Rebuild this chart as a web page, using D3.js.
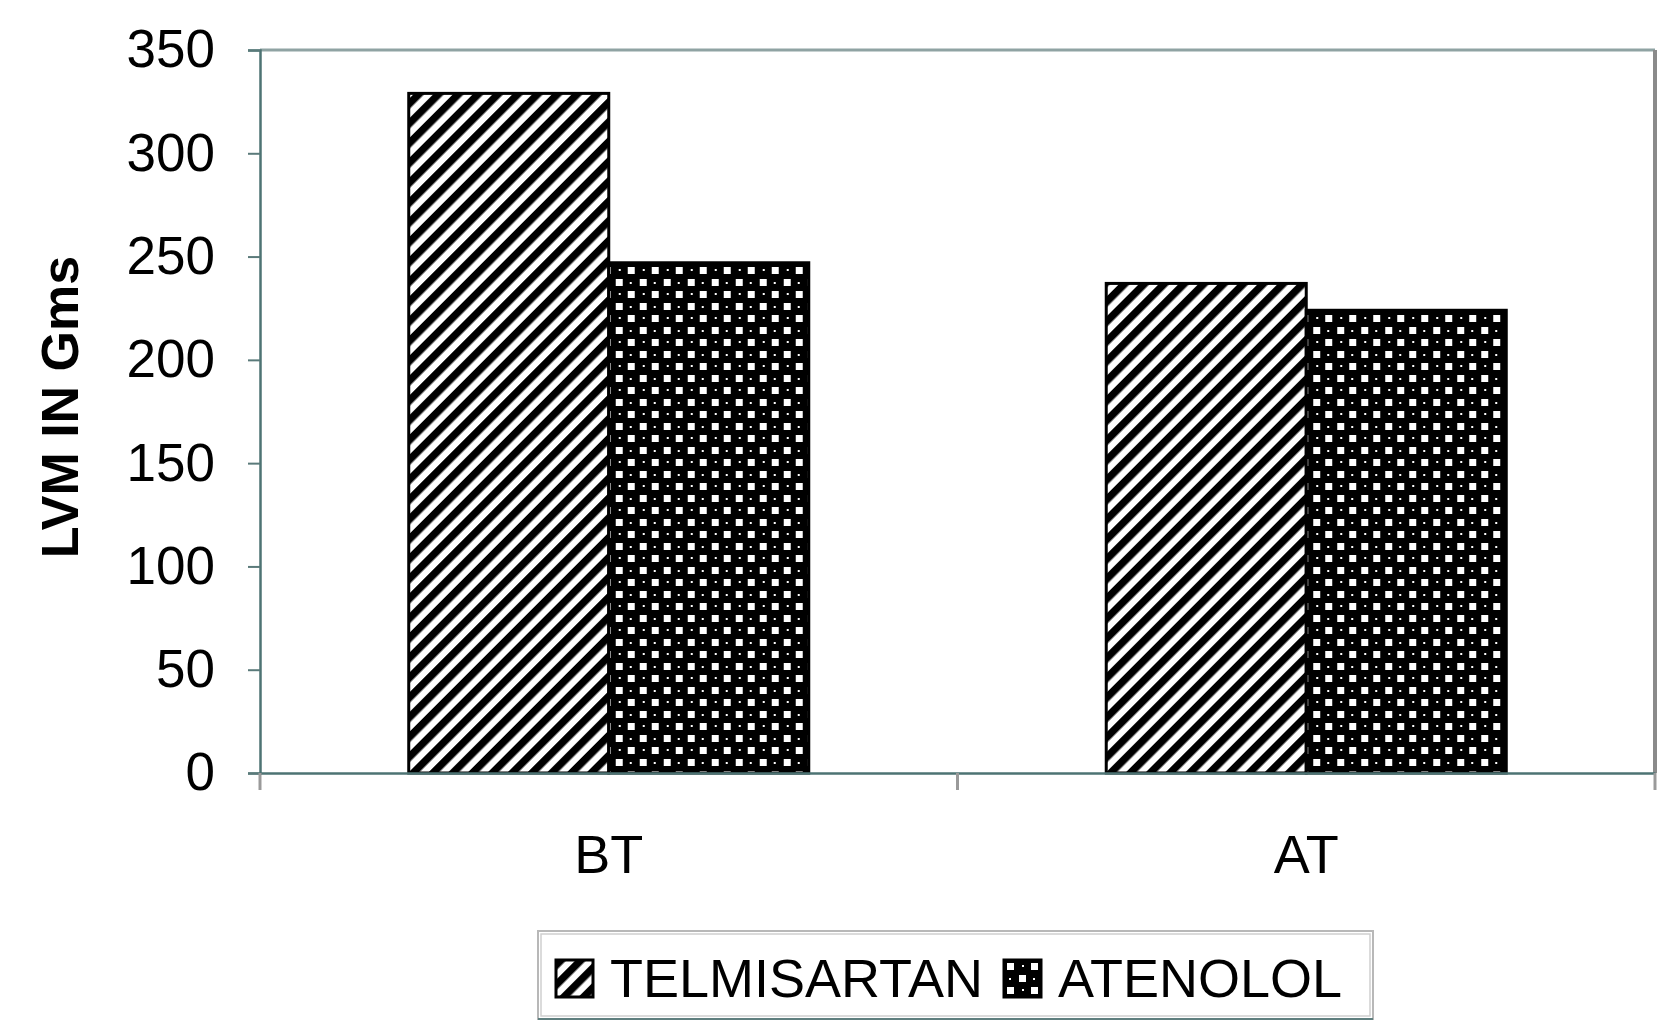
<!DOCTYPE html>
<html>
<head>
<meta charset="utf-8">
<script src="https://d3js.org/d3.v7.min.js"></script>
<style>
  body { margin: 0; background: #ffffff; }
  svg { display: block; }
</style>
</head>
<body>
<script>
// data
var categories = ["BT", "AT"];
var seriesNames = ["TELMISARTAN", "ATENOLOL"];
var telmisartan = [329, 237];
var atenolol = [247, 224];
var yTicks = [0, 50, 100, 150, 200, 250, 300, 350];

// layout (note: "top" is taken by window.top, so use plot* names)
var W = 1680, H = 1024;
var plotLeft = 260, plotRight = 1655, plotTop = 50, plotBottom = 773;

var svg = d3.select("body").append("svg").attr("width", W).attr("height", H);

// patterns for the bars
var defs = svg.append("defs");

// diagonal stripes "/"
var stripe = defs.append("pattern")
  .attr("id", "stripe")
  .attr("patternUnits", "userSpaceOnUse")
  .attr("width", 14).attr("height", 14)
  .attr("patternTransform", "rotate(45)");
stripe.append("rect").attr("width", 14).attr("height", 14).attr("fill", "#ffffff");
stripe.append("rect").attr("width", 7.5).attr("height", 14).attr("fill", "#000000");

// dotted checker, mostly black
var checker = defs.append("pattern")
  .attr("id", "checker")
  .attr("patternUnits", "userSpaceOnUse")
  .attr("width", 24).attr("height", 24);
checker.append("rect").attr("width", 24).attr("height", 24).attr("fill", "#000000");
checker.append("rect").attr("x", 3).attr("y", 3).attr("width", 7).attr("height", 7).attr("fill", "#ffffff");
checker.append("rect").attr("x", 15).attr("y", 15).attr("width", 7).attr("height", 7).attr("fill", "#ffffff");
checker.append("rect").attr("x", 18).attr("y", 5).attr("width", 2).attr("height", 2).attr("fill", "#ffffff");
checker.append("rect").attr("x", 5).attr("y", 18).attr("width", 2).attr("height", 2).attr("fill", "#ffffff");

var fills = ["url(#stripe)", "url(#checker)"];

// scales
var pad = 0.4265;
var x0 = d3.scaleBand().domain(categories).range([plotLeft, plotRight]).paddingInner(pad).paddingOuter(pad / 2);
var x1 = d3.scaleBand().domain(seriesNames).range([0, x0.bandwidth()]);
var y = d3.scaleLinear().domain([0, 350]).range([plotBottom, plotTop]);

// plot area border (top and right)
svg.append("line").attr("x1", plotLeft).attr("x2", plotRight).attr("y1", plotTop).attr("y2", plotTop)
  .attr("stroke", "#8fa3a3").attr("stroke-width", 3);
svg.append("line").attr("x1", plotRight).attr("x2", plotRight).attr("y1", plotTop).attr("y2", plotBottom)
  .attr("stroke", "#8a8a8a").attr("stroke-width", 4);

// build table from the arrays
var table = categories.map(function (c, i) {
  return { cat: c, values: [telmisartan[i], atenolol[i]] };
});

// bars
var groups = svg.selectAll("g.grp")
  .data(table)
  .enter()
  .append("g")
  .attr("class", "grp")
  .attr("transform", function (d) { return "translate(" + x0(d.cat) + ",0)"; });

groups.selectAll("rect")
  .data(function (d) {
    return d.values.map(function (v, j) { return { name: seriesNames[j], value: v, j: j }; });
  })
  .enter()
  .append("rect")
  .attr("x", function (d) { return x1(d.name); })
  .attr("y", function (d) { return y(d.value); })
  .attr("width", x1.bandwidth())
  .attr("height", function (d) { return y(0) - y(d.value); })
  .attr("fill", function (d) { return fills[d.j]; })
  .attr("stroke", "#000000")
  .attr("stroke-width", 3);

// y axis
var yAxis = d3.axisLeft(y).tickValues(yTicks).tickSize(12).tickPadding(33);
var gy = svg.append("g").attr("transform", "translate(" + plotLeft + ",0)").call(yAxis);
gy.select(".domain").attr("stroke", "#4d7373").attr("stroke-width", 2.5);
gy.selectAll(".tick line").attr("stroke", "#5a7a7a").attr("stroke-width", 2);
gy.selectAll("text")
  .attr("font-family", "Liberation Sans, Arial, sans-serif")
  .attr("font-size", 53)
  .attr("fill", "#000000");

// x axis
var xAxis = d3.axisBottom(x0).tickSize(0).tickPadding(62);
var gx = svg.append("g").attr("transform", "translate(0," + plotBottom + ")").call(xAxis);
gx.select(".domain").attr("stroke", "#4d7373").attr("stroke-width", 2.5);
gx.selectAll("text")
  .attr("font-family", "Liberation Sans, Arial, sans-serif")
  .attr("font-size", 54)
  .attr("fill", "#000000");

// category boundary ticks
var step = x0.step();
var bounds = categories.map(function (c) { return x0(c) - step * pad / 2; }).concat([plotRight]);
gx.selectAll("line.bound")
  .data(bounds)
  .enter()
  .append("line")
  .attr("class", "bound")
  .attr("x1", function (d) { return d; })
  .attr("x2", function (d) { return d; })
  .attr("y1", 0)
  .attr("y2", 17)
  .attr("stroke", "#9a9a9a")
  .attr("stroke-width", 3);

// y axis title
svg.append("text")
  .attr("transform", "translate(78,407) rotate(-90)")
  .attr("text-anchor", "middle")
  .attr("font-family", "Liberation Sans, Arial, sans-serif")
  .attr("font-weight", "bold")
  .attr("font-size", 52)
  .attr("fill", "#000000")
  .text("LVM IN Gms");

// legend box
var legend = svg.append("g");
legend.append("rect")
  .attr("x", 538).attr("y", 931).attr("width", 835).attr("height", 88)
  .attr("fill", "#ffffff").attr("stroke", "#b8b8b8").attr("stroke-width", 2);
legend.append("rect")
  .attr("x", 541).attr("y", 934).attr("width", 829).attr("height", 82)
  .attr("fill", "none").attr("stroke", "#cfcfcf").attr("stroke-width", 1.5);
legend.append("line")
  .attr("x1", 538).attr("x2", 1373).attr("y1", 1019).attr("y2", 1019)
  .attr("stroke", "#5f7f7f").attr("stroke-width", 2);

// legend entries
var legendX = [556, 1004];
var entries = legend.selectAll("g.entry")
  .data(seriesNames)
  .enter()
  .append("g")
  .attr("class", "entry")
  .attr("transform", function (d, i) { return "translate(" + legendX[i] + ",960)"; });

entries.append("rect")
  .attr("width", 37).attr("height", 37)
  .attr("fill", function (d, i) { return fills[i]; })
  .attr("stroke", "#000000").attr("stroke-width", 3);

entries.append("text")
  .attr("x", 54)
  .attr("y", 37)
  .attr("font-family", "Liberation Sans, Arial, sans-serif")
  .attr("font-size", 54)
  .attr("fill", "#000000")
  .text(function (d) { return d; });
</script>
</body>
</html>
